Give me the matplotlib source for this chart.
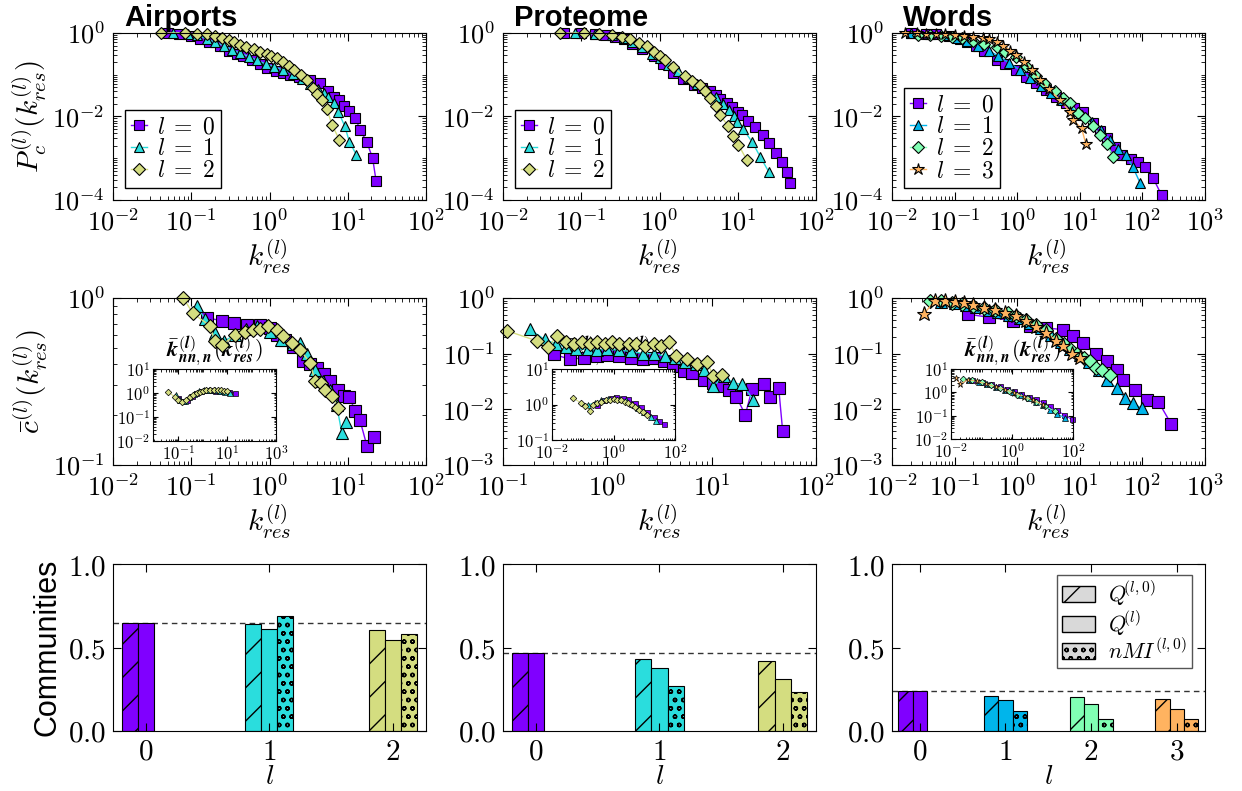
import numpy as np
import matplotlib.pyplot as plt
from matplotlib.patches import Patch
from matplotlib.ticker import LogLocator, NullFormatter

plt.rcParams['mathtext.fontset'] = 'cm'
plt.rcParams['font.family'] = ['Liberation Sans', 'DejaVu Sans']

# ---------------- top row: P_c^(l)(k_res) ----------------
air_pc_k = [
    [0.05, 0.07, 0.1, 0.13, 0.17, 0.23, 0.3, 0.38, 0.46, 0.6, 0.75, 0.92, 1.2, 1.5,
     1.84, 2.4, 3.3, 4.4, 5.6, 6.6, 7.8, 9.0, 10.5, 12.5, 14.4, 17.6, 20.8, 23],
    [0.058, 0.09, 0.12, 0.16, 0.2, 0.26, 0.33, 0.42, 0.55, 0.7, 0.9, 1.15, 1.5, 2.0,
     2.6, 3.3, 4.2, 5.0, 5.6, 6.6, 7.6, 9.1, 10.5, 12.9],
    [0.041, 0.083, 0.12, 0.16, 0.2, 0.25, 0.3, 0.35, 0.42, 0.5, 0.63, 0.75, 0.92,
     1.05, 1.24, 1.5, 1.75, 2.03, 2.5, 3.0, 3.65, 4.1, 4.67, 5.4, 6.3, 7.8],
]
air_pc_p = [
    [1.0, 0.95, 0.85, 0.72, 0.6, 0.48, 0.38, 0.32, 0.275, 0.22, 0.18, 0.145, 0.12, 0.108,
     0.1, 0.087, 0.076, 0.063, 0.04, 0.03, 0.025, 0.018, 0.0137, 0.0091, 0.0048, 0.0024,
     0.001, 0.00029],
    [1.0, 0.95, 0.88, 0.72, 0.6, 0.5, 0.4, 0.33, 0.27, 0.22, 0.18, 0.155, 0.13, 0.105,
     0.08, 0.06, 0.045, 0.036, 0.03, 0.021, 0.013, 0.006, 0.0025, 0.0012],
    [1.0, 1.0, 0.97, 0.93, 0.86, 0.77, 0.68, 0.6, 0.52, 0.47, 0.41, 0.36, 0.32, 0.28,
     0.25, 0.2, 0.16, 0.13, 0.1, 0.076, 0.048, 0.035, 0.025, 0.015, 0.0063, 0.0028],
]

pro_pc_k = [
    [0.06, 0.1, 0.15, 0.2, 0.27, 0.35, 0.45, 0.6, 0.84, 1.1, 1.5, 2.0, 2.75, 3.5, 4.4,
     5.2, 6.0, 7.2, 8.5, 10, 11.3, 13.7, 16.8, 21.3, 24.8, 31, 36.8, 42.7, 47],
    [0.082, 0.15, 0.25, 0.35, 0.45, 0.6, 0.8, 1.0, 1.3, 1.7, 2.3, 3.0, 4.0, 5.2, 6.5,
     7.8, 8.9, 9.8, 11.7, 15.2, 19.3, 24.8],
    [0.054, 0.107, 0.17, 0.25, 0.33, 0.42, 0.55, 0.69, 0.85, 1.0, 1.19, 1.5, 2.09, 2.6,
     3.3, 3.8, 4.45, 5.2, 5.94, 7.6, 8.8, 10.2, 13.1],
]
pro_pc_p = [
    [1.0, 1.0, 0.97, 0.92, 0.82, 0.7, 0.55, 0.42, 0.275, 0.18, 0.11, 0.08, 0.058, 0.048,
     0.04, 0.032, 0.026, 0.021, 0.017, 0.013, 0.011, 0.0076, 0.0055, 0.0036, 0.0023,
     0.0013, 0.0008, 0.00048, 0.00025],
    [1.0, 0.97, 0.88, 0.75, 0.6, 0.45, 0.32, 0.25, 0.17, 0.12, 0.085, 0.06, 0.042, 0.03,
     0.02, 0.014, 0.01, 0.0072, 0.005, 0.0025, 0.0011, 0.00048],
    [1.0, 1.0, 0.95, 0.88, 0.8, 0.7, 0.58, 0.48, 0.35, 0.28, 0.23, 0.15, 0.091, 0.07,
     0.058, 0.04, 0.028, 0.018, 0.011, 0.0058, 0.0035, 0.0021, 0.0009],
]

wrd_pc_k = [
    [0.02, 0.035, 0.05, 0.08, 0.12, 0.16, 0.22, 0.3, 0.47, 0.65, 0.97, 1.4, 2.0, 2.9,
     4.2, 6, 8.2, 11.3, 16.4, 21, 27, 36.6, 46.5, 65, 85, 110, 149, 203],
    [0.02, 0.04, 0.07, 0.11, 0.16, 0.24, 0.35, 0.5, 0.75, 1.1, 1.6, 2.4, 3.5, 5.2, 7.5,
     11, 15.5, 21.5, 30, 41, 54.6, 69.7, 91.6],
    [0.026, 0.04, 0.06, 0.09, 0.13, 0.2, 0.3, 0.47, 0.65, 0.97, 1.4, 2.0, 2.8, 4.0, 5.4,
     6.9, 9.4, 12, 16.4, 20.8, 26.8, 34.2],
    [0.016, 0.025, 0.035, 0.05, 0.07, 0.1, 0.14, 0.2, 0.28, 0.36, 0.47, 0.6, 0.78, 0.97,
     1.3, 1.7, 2.3, 3.2, 4.8, 6.9, 7.7, 10.7, 12.5],
]
wrd_pc_p = [
    [1.0, 0.97, 0.93, 0.85, 0.72, 0.6, 0.48, 0.38, 0.23, 0.18, 0.13, 0.09, 0.063, 0.043,
     0.03, 0.021, 0.016, 0.013, 0.0069, 0.0045, 0.003, 0.0019, 0.0012, 0.00095, 0.0008,
     0.00063, 0.00033, 0.00013],
    [1.0, 0.95, 0.88, 0.78, 0.65, 0.5, 0.38, 0.28, 0.19, 0.13, 0.085, 0.055, 0.037,
     0.025, 0.016, 0.011, 0.0072, 0.0048, 0.0028, 0.0017, 0.0012, 0.00063, 0.00026],
    [0.88, 0.88, 0.86, 0.82, 0.75, 0.65, 0.55, 0.45, 0.35, 0.26, 0.16, 0.095, 0.06,
     0.04, 0.028, 0.021, 0.012, 0.0091, 0.0058, 0.0036, 0.0022, 0.0011],
    [1.0, 1.0, 0.97, 0.95, 0.93, 0.9, 0.87, 0.82, 0.75, 0.7, 0.6, 0.5, 0.38, 0.3, 0.2,
     0.13, 0.075, 0.045, 0.025, 0.013, 0.0083, 0.0052, 0.0022],
]

# ---------------- middle row: c_bar^(l)(k_res) ----------------
air_c_k = [
    [0.16, 0.25, 0.35, 0.51, 0.76, 1.0, 1.24, 1.6, 2.0, 2.7, 3.3, 4.0, 5.0, 6.0, 7.6,
     8.9, 10.5, 12.4, 14.3, 17.6, 21.6],
    [0.118, 0.15, 0.2, 0.26, 0.36, 0.5, 0.7, 1.0, 1.4, 2.0, 2.45, 3.0, 3.8, 4.8, 6.0,
     7.2, 8.4, 9.6],
    [0.079, 0.105, 0.174, 0.2, 0.245, 0.364, 0.49, 0.62, 0.76, 0.97, 1.24, 1.5, 1.92,
     2.45, 3.3, 3.8, 4.6, 5.1, 6.2, 7.6],
]
air_c_v = [
    [0.76, 0.73, 0.71, 0.69, 0.69, 0.66, 0.6, 0.56, 0.51, 0.42, 0.4, 0.38, 0.35, 0.32,
     0.28, 0.26, 0.257, 0.21, 0.186, 0.13, 0.148],
    [0.89, 0.75, 0.62, 0.55, 0.6, 0.65, 0.68, 0.63, 0.56, 0.53, 0.54, 0.46, 0.37, 0.32,
     0.28, 0.23, 0.155, 0.18],
    [1.0, 0.81, 0.68, 0.55, 0.52, 0.6, 0.63, 0.645, 0.65, 0.68, 0.645, 0.59, 0.54, 0.49,
     0.41, 0.32, 0.31, 0.28, 0.26, 0.22],
]

pro_c_k = [
    [0.31, 0.44, 0.6, 0.8, 1.0, 1.3, 1.7, 2.2, 2.8, 3.5, 4.3, 5.4, 6.5, 8.4, 10.4, 12.5,
     14.5, 17.2, 21, 24.4, 31.6, 36, 43.9, 47.9],
    [0.18, 0.25, 0.32, 0.4, 0.5, 0.65, 0.8, 1.0, 1.3, 1.7, 2.2, 2.8, 3.6, 4.5, 5.6, 7.0,
     8.5, 10.4, 13, 16, 19.5, 25],
    [0.11, 0.21, 0.27, 0.33, 0.4, 0.48, 0.57, 0.68, 0.8, 0.95, 1.1, 1.3, 1.6, 1.9, 2.3,
     2.8, 3.3, 3.9, 4.6, 5.8, 7.2, 9.0, 10.4, 12.5],
]
pro_c_v = [
    [0.097, 0.079, 0.085, 0.09, 0.095, 0.09, 0.085, 0.08, 0.085, 0.075, 0.06, 0.049,
     0.045, 0.034, 0.03, 0.026, 0.022, 0.017, 0.008, 0.023, 0.028, 0.0167, 0.0243, 0.0041],
    [0.275, 0.18, 0.15, 0.13, 0.12, 0.12, 0.115, 0.12, 0.115, 0.11, 0.1, 0.1, 0.09, 0.085,
     0.07, 0.065, 0.05, 0.026, 0.04, 0.03, 0.028, 0.015],
    [0.257, 0.17, 0.13, 0.21, 0.16, 0.15, 0.16, 0.15, 0.16, 0.15, 0.16, 0.15, 0.15, 0.15,
     0.14, 0.15, 0.14, 0.16, 0.09, 0.08, 0.064, 0.07, 0.04, 0.042],
]

wrd_c_k = [
    [0.164, 0.36, 0.86, 1.6, 2.9, 5.4, 7.8, 11.4, 18.4, 26.9, 38.6, 49, 76, 117, 180, 290],
    [0.06, 0.1, 0.15, 0.22, 0.35, 0.5, 0.75, 1.1, 1.6, 2.4, 3.5, 5, 7, 10, 14, 20, 27,
     38.6, 52, 70, 97],
    [0.04, 0.06, 0.09, 0.13, 0.2, 0.3, 0.45, 0.7, 0.97, 1.4, 2.0, 2.9, 4.2, 5.5, 6.9, 9,
     11.5, 14.5, 18.4, 23, 30],
    [0.032, 0.048, 0.07, 0.1, 0.14, 0.2, 0.3, 0.45, 0.65, 0.97, 1.4, 2.0, 2.9, 4.2, 5.4,
     7.5, 10],
]
wrd_c_v = [
    [0.51, 0.45, 0.39, 0.31, 0.29, 0.27, 0.207, 0.157, 0.1, 0.073, 0.051, 0.034, 0.022,
     0.0147, 0.0137, 0.0054],
    [0.86, 0.82, 0.76, 0.7, 0.62, 0.57, 0.5, 0.44, 0.36, 0.29, 0.22, 0.16, 0.12, 0.095,
     0.07, 0.05, 0.034, 0.024, 0.016, 0.013, 0.0104],
    [0.9, 0.88, 0.83, 0.78, 0.72, 0.65, 0.6, 0.54, 0.48, 0.4, 0.33, 0.27, 0.18, 0.15,
     0.12, 0.1, 0.085, 0.073, 0.055, 0.05, 0.042],
    [0.51, 0.89, 0.88, 0.85, 0.8, 0.74, 0.67, 0.6, 0.54, 0.47, 0.38, 0.3, 0.24, 0.17,
     0.136, 0.1, 0.083],
]

# ---------------- insets: k_nn,n^(l)(k_res) ----------------
air_kn_k = [
    [0.1, 0.15, 0.22, 0.35, 0.5, 0.8, 1.2, 2, 3, 5, 8, 12, 20],
    [0.08, 0.12, 0.18, 0.28, 0.45, 0.7, 1.1, 1.8, 3, 5, 8, 13],
    [0.037, 0.07, 0.1, 0.14, 0.2, 0.3, 0.4, 0.55, 0.75, 1, 1.4, 2, 2.8, 4, 5.5, 7.5, 10],
]
air_kn_v = [
    [0.6, 0.45, 0.5, 0.75, 1.0, 1.2, 1.3, 1.3, 1.25, 1.25, 1.2, 1.1, 1.0],
    [0.8, 0.5, 0.45, 0.65, 0.95, 1.2, 1.3, 1.3, 1.3, 1.25, 1.15, 1.0],
    [1.1, 0.7, 0.5, 0.42, 0.5, 0.65, 0.8, 1.0, 1.15, 1.25, 1.3, 1.32, 1.3, 1.3, 1.28,
     1.25, 1.2],
]

pro_kn_k = [
    [0.3, 0.5, 0.8, 1.2, 2, 3, 5, 8, 12, 20, 30, 45],
    [0.15, 0.25, 0.4, 0.65, 1, 1.6, 2.5, 4, 6.5, 10, 16, 25],
    [0.048, 0.09, 0.12, 0.17, 0.22, 0.3, 0.4, 0.55, 0.75, 1, 1.3, 1.7, 2.3, 3, 4, 5, 7,
     9, 12],
]
pro_kn_v = [
    [1.0, 1.3, 1.5, 1.6, 1.55, 1.4, 1.1, 0.85, 0.6, 0.45, 0.35, 0.28],
    [1.0, 1.1, 1.3, 1.45, 1.5, 1.45, 1.3, 1.05, 0.8, 0.6, 0.45, 0.35],
    [1.52, 1.1, 0.9, 0.66, 1.0, 1.1, 1.2, 1.3, 1.35, 1.4, 1.35, 1.3, 1.2, 1.1, 0.95,
     0.85, 0.7, 0.6, 0.5],
]

wrd_kn_k = [
    [0.05, 0.1, 0.2, 0.4, 0.7, 1.2, 2, 3.5, 6, 10, 18, 30, 50, 90],
    [0.04, 0.08, 0.15, 0.3, 0.6, 1.1, 2, 3.5, 6, 10, 18, 30, 55],
    [0.025, 0.05, 0.1, 0.2, 0.4, 0.8, 1.5, 3, 6, 12, 25],
    [0.015, 0.02, 0.035, 0.07, 0.14, 0.3, 0.6, 1.2, 2.5, 5, 10],
]
wrd_kn_v = [
    [3.5, 2.8, 2.3, 1.8, 1.4, 1.1, 0.85, 0.65, 0.5, 0.38, 0.25, 0.17, 0.11, 0.07],
    [3.5, 2.8, 2.2, 1.7, 1.3, 1.0, 0.75, 0.55, 0.4, 0.28, 0.18, 0.12, 0.08],
    [3.8, 3.5, 2.7, 2.0, 1.5, 1.1, 0.8, 0.55, 0.38, 0.25, 0.16],
    [4.0, 2.2, 3.5, 3.0, 2.3, 1.7, 1.3, 0.95, 0.65, 0.45, 0.3],
]

# ---------------- bottom row: community quality ----------------
air_q_l0 = [0.646, 0.638, 0.602]
air_q_l = [0.646, 0.608, 0.542]
air_nmi = [0.686, 0.58]          # l >= 1
pro_q_l0 = [0.47, 0.434, 0.422]
pro_q_l = [0.47, 0.376, 0.314]
pro_nmi = [0.272, 0.236]
wrd_q_l0 = [0.242, 0.212, 0.206, 0.194]
wrd_q_l = [0.242, 0.186, 0.164, 0.134]
wrd_nmi = [0.122, 0.074, 0.074]

names = ['Airports', 'Proteome', 'Words']
markers = ['s', '^', 'D', '*']
mscale = {'s': 1.0, '^': 1.08, 'D': 0.93, '*': 1.4}

W, H = 1242, 791
fig = plt.figure(figsize=(W / 100, H / 100), dpi=100)


def px_axes(left, top, w, h):
    return fig.add_axes([left / W, 1 - (top + h) / H, w / W, h / H])


def colors(n):
    return [plt.cm.rainbow(i / n) for i in range(n)]


def draw_levels(ax, ks, vs, ms, mew=0.8, lw=1.0):
    cols = colors(len(ks))
    for i in range(len(ks)):
        m = markers[i]
        ax.plot(ks[i], vs[i], marker=m, ms=ms * mscale[m], color=cols[i], mec='k',
                mew=mew, lw=lw, clip_on=False, label=r'$l\;=\;%d$' % i)


def pow_labels(ticks):
    return [r'$10^{%d}$' % round(np.log10(t)) for t in ticks]


def log_style(ax, xt, yt, xlim, ylim, lsize=19, major=6, minor=3):
    ax.set_xscale('log')
    ax.set_yscale('log')
    ax.set_xticks(xt, pow_labels(xt))
    ax.set_yticks(yt, pow_labels(yt))
    for a in (ax.xaxis, ax.yaxis):
        a.set_minor_locator(LogLocator(base=10, subs=np.arange(1, 10), numticks=100))
        a.set_minor_formatter(NullFormatter())
    ax.set_xlim(xlim)
    ax.set_ylim(ylim)
    ax.tick_params(which='both', direction='in', top=True, right=True,
                   labelsize=lsize, pad=6)
    ax.tick_params(which='major', length=major, width=0.8)
    ax.tick_params(which='minor', length=minor, width=0.6)


lefts = [113, 503, 892]
aw, ah = 313, 167
dec = lambda a, b: [10.0 ** e for e in range(a, b + 1)]

# ---- top row ----
pc_k = [air_pc_k, pro_pc_k, wrd_pc_k]
pc_p = [air_pc_p, pro_pc_p, wrd_pc_p]
pc_xmax = [2, 2, 3]
for j in range(3):
    ax = px_axes(lefts[j], 33, aw, ah)
    draw_levels(ax, pc_k[j], pc_p[j], 6.6)
    log_style(ax, dec(-2, pc_xmax[j]), [1e-4, 1e-2, 1e0], (1e-2, 10.0 ** pc_xmax[j]),
              (1e-4, 1))
    ax.set_xlabel(r'$k_{res}^{(l)}$', fontsize=21, labelpad=2)
    ax.text(0.035, 1.04, names[j], transform=ax.transAxes, fontsize=21,
            fontweight='bold', va='baseline', ha='left')
    leg = ax.legend(loc='lower left', bbox_to_anchor=(0.038, 0.072), borderaxespad=0,
                    fontsize=17, numpoints=1, handlelength=0.7, handletextpad=0.4,
                    labelspacing=0.0, borderpad=0.25, fancybox=False, framealpha=1,
                    edgecolor='k')
    leg.get_frame().set_linewidth(1.0)
    if j == 0:
        ax.set_ylabel(r'$P_c^{(l)}(k_{res}^{(l)})$', fontsize=21, labelpad=2)

# ---- middle row ----
c_k = [air_c_k, pro_c_k, wrd_c_k]
c_v = [air_c_v, pro_c_v, wrd_c_v]
c_xlim = [(1e-2, 1e2), (1e-1, 1e2), (1e-2, 1e3)]
c_xt = [dec(-2, 2), dec(-1, 2), dec(-2, 3)]
c_ylim = [(1e-1, 1), (1e-3, 1), (1e-3, 1)]
c_yt = [dec(-1, 0), dec(-3, 0), dec(-3, 0)]

kn_k = [air_kn_k, pro_kn_k, wrd_kn_k]
kn_v = [air_kn_v, pro_kn_v, wrd_kn_v]
ins_rect = [(153, 369, 123, 72), (552, 369, 123, 71), (951, 369, 122, 70)]
ins_xlim = [(0.009, 1e3), (1e-2, 1e2), (1e-2, 1e2)]
ins_xt = [[1e-1, 1e1, 1e3], [1e-2, 1e0, 1e2], [1e-2, 1e0, 1e2]]
ins_ylim = [(1e-2, 1e1), (1e-1, 1e1), (1e-2, 1e1)]
ins_yt = [dec(-2, 1), dec(-1, 1), dec(-2, 1)]
kn_title = (r'$\bar{\boldsymbol{k}}^{(\boldsymbol{l})}_{\boldsymbol{nn,n}}'
            r'(\boldsymbol{k}^{(\boldsymbol{l})}_{\boldsymbol{res}})$')

for j in range(3):
    ax = px_axes(lefts[j], 298, aw, ah)
    draw_levels(ax, c_k[j], c_v[j], 8)
    log_style(ax, c_xt[j], c_yt[j], c_xlim[j], c_ylim[j])
    ax.set_xlabel(r'$k_{res}^{(l)}$', fontsize=21, labelpad=2)
    if j == 0:
        ax.set_ylabel(r'$\bar{c}^{(l)}(k_{res}^{(l)})$', fontsize=21, labelpad=2)

    l, t, w, h = ins_rect[j]
    ax.text((l + w / 2) / W, 1 - (t - 1) / H, kn_title, transform=fig.transFigure,
            ha='center', va='bottom', fontsize=16, zorder=1)
    ins = px_axes(l, t, w, h)
    draw_levels(ins, kn_k[j], kn_v[j], 3.6, mew=0.5, lw=0.7)
    log_style(ins, ins_xt[j], ins_yt[j], ins_xlim[j], ins_ylim[j], lsize=12,
              major=3.5, minor=1.8)
    ins.tick_params(pad=2)

# ---- bottom row ----
q_l0 = [air_q_l0, pro_q_l0, wrd_q_l0]
q_l = [air_q_l, pro_q_l, wrd_q_l]
nmi = [air_nmi, pro_nmi, wrd_nmi]
bar_w = [0.13, 0.132, 0.167]
bar_xlim = [(-0.265, 2.267), (-0.268, 2.27), (-0.323, 3.33)]

for j in range(3):
    ax = px_axes(lefts[j], 564, aw, ah)
    n = len(q_l0[j])
    cols = colors(n)
    wd = bar_w[j]
    lv = np.arange(n)
    ax.bar(lv - wd, q_l0[j], width=wd, color=cols, edgecolor='k', linewidth=0.8,
           hatch='/')
    ax.bar(lv, q_l[j], width=wd, color=cols, edgecolor='k', linewidth=0.8)
    ax.bar(lv[1:] + wd, nmi[j], width=wd, color=cols[1:], edgecolor='k', linewidth=0.8,
           hatch='oo')
    ax.axhline(q_l[j][0], ls=(0, (4, 3)), color='#333333', lw=1.0, zorder=0.5)
    ax.set_xlim(bar_xlim[j])
    ax.set_ylim(0, 1)
    ax.set_yticks([0, 0.5, 1.0], [r'$0.0$', r'$0.5$', r'$1.0$'])
    ax.set_xticks(lv, [r'$%d$' % i for i in lv])
    ax.tick_params(direction='in', top=True, right=True, labelsize=21, length=6,
                   width=0.8, pad=5)
    ax.set_xlabel(r'$l$', fontsize=20)
    ax.xaxis.set_label_coords(0.5, -0.195)
    if j == 0:
        ax.set_ylabel('Communities', fontsize=22, labelpad=4)
    if j == 2:
        handles = [Patch(facecolor='#d9d9d9', edgecolor='k', hatch='/'),
                   Patch(facecolor='#d9d9d9', edgecolor='k'),
                   Patch(facecolor='#d9d9d9', edgecolor='k', hatch='oo')]
        leg = ax.legend(handles, [r'$Q^{\!\!(l,0)}$', r'$Q^{\!\!(l)}$',
                                  r'$nMI^{(l,0)}$'],
                        loc='upper right', bbox_to_anchor=(0.958, 0.934),
                        borderaxespad=0, fontsize=16, handlelength=1.5,
                        handleheight=0.75, handletextpad=0.6, labelspacing=0.05,
                        borderpad=0.2, fancybox=False, framealpha=1,
                        edgecolor='#555555')

fig.savefig('out.png', dpi=100)
